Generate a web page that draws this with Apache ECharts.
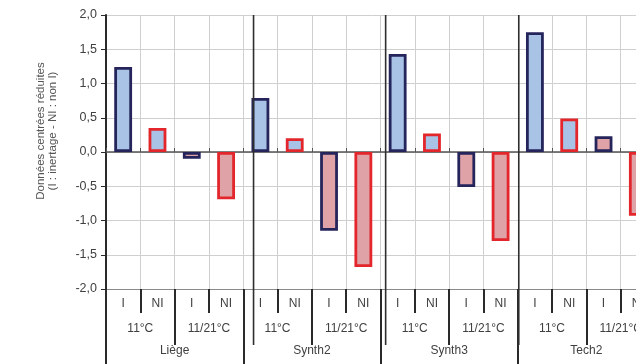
<!DOCTYPE html>
<html>
<head>
<meta charset="utf-8">
<script src="https://cdn.jsdelivr.net/npm/echarts@6/dist/echarts.min.js"></script>
<style>
  html, body { margin: 0; padding: 0; background: #fff; }
  #chart { width: 636px; height: 364px; }
</style>
</head>
<body>
<div id="chart"></div>
<script>
// Sites, temperature regimes and treatments (three label levels)
const sites = ['Liège', 'Synth2', 'Synth3', 'Tech2'];
const regimes = ['11°C', '11/21°C'];
const treatments = ['I', 'NI'];

// Centred-reduced values per site: [I 11°C, NI 11°C, I 11/21°C, NI 11/21°C]
const liege  = [1.24, 0.35, -0.10, -0.69];
const synth2 = [0.79, 0.20, -1.15, -1.68];
const synth3 = [1.43, 0.27, -0.51, -1.30];
const tech2  = [1.75, 0.49, 0.23, -0.93];

const yTicks = [-2.0, -1.5, -1.0, -0.5, 0.0, 0.5, 1.0, 1.5, 2.0];

const siteValues = [liege, synth2, synth3, tech2];

// Flattened category levels
const level1 = [], level2 = [], values = [];
sites.forEach((s, si) => {
  regimes.forEach((r, ri) => {
    level2.push(r);
    treatments.forEach((t, ti) => {
      level1.push(t);
      values.push(siteValues[si][ri * 2 + ti]);
    });
  });
});

const BLUE = '#a8c3e5', PINK = '#dfa2a7', NAVY = '#25255c', RED = '#e3262c';
const fills = [BLUE, BLUE, PINK, PINK];
const borders = [NAVY, RED, NAVY, RED];

const labelFont = { fontFamily: 'Liberation Sans, Arial, sans-serif', fontSize: 12, color: '#404040' };

const chart = echarts.init(document.getElementById('chart'), null, { renderer: 'canvas' });

chart.setOption({
  animation: false,
  grid: { left: 106, top: 15, width: 549, height: 274, containLabel: false, outerBoundsMode: 'none' },
  xAxis: [
    {
      type: 'category', data: level1, position: 'bottom',
      axisLine: { onZero: false, lineStyle: { color: '#8a8a8a', width: 1 } },
      axisTick: { show: true, length: 24, lineStyle: { color: '#2a2a2a', width: 2 } },
      axisLabel: Object.assign({ margin: 9, interval: 0 }, labelFont),
      splitLine: { show: true, lineStyle: { color: '#cfcfcf', width: 1 } }
    },
    {
      type: 'category', data: level2, position: 'bottom',
      axisLine: { show: false, onZero: false },
      axisTick: { show: true, length: 56, lineStyle: { color: '#2a2a2a', width: 2 } },
      axisLabel: Object.assign({ margin: 34, interval: 0 }, labelFont),
      splitLine: { show: false }
    },
    {
      type: 'category', data: sites, position: 'bottom',
      axisLine: { show: false, onZero: false },
      axisTick: { show: true, length: 76, lineStyle: { color: '#2a2a2a', width: 2 } },
      axisLabel: Object.assign({ margin: 56, interval: 0 }, labelFont),
      splitLine: { show: false }
    },
    {
      // zero line with small boundary ticks
      type: 'category', data: level1,
      axisLine: { onZero: true, lineStyle: { color: '#555', width: 1.5 } },
      axisTick: { show: true, length: 4, lineStyle: { color: '#555', width: 1 } },
      axisLabel: { show: false },
      splitLine: { show: false }
    }
  ],
  yAxis: {
    type: 'value', min: yTicks[0], max: yTicks[yTicks.length - 1], interval: 0.5,
    axisLine: { show: true, onZero: false, lineStyle: { color: '#2a2a2a', width: 2 } },
    axisTick: { show: true, length: 5, lineStyle: { color: '#2a2a2a' } },
    axisLabel: Object.assign({ margin: 9, formatter: v => v.toFixed(1).replace('.', ',') },
      labelFont, { fontSize: 12.5 }),
    splitLine: { show: true, lineStyle: { color: '#cfcfcf', width: 1 } }
  },
  series: [{
    type: 'bar', xAxisIndex: 0, barWidth: '52%', z: 3,
    data: values.map((v, i) => ({
      value: v,
      itemStyle: { color: fills[i % 4], borderColor: borders[i % 4], borderWidth: 2.8 }
    }))
  }]
});

// Site separator lines running from the plot top through the label rows
const sepShift = [0.3, 0.15, 0.03];
const band = chart.convertToPixel({ xAxisIndex: 0 }, 1) - chart.convertToPixel({ xAxisIndex: 0 }, 0);
const yTop = chart.convertToPixel({ yAxisIndex: 0 }, yTicks[yTicks.length - 1]);
const graphics = [];
for (let g = 1; g < sites.length; g++) {
  const idx = g * treatments.length * regimes.length;
  const x = chart.convertToPixel({ xAxisIndex: 0 }, idx) - band / 2 + sepShift[g - 1] * band;
  graphics.push({
    type: 'line', z: 10,
    shape: { x1: x, y1: yTop, x2: x, y2: 345 },
    style: { stroke: '#2e2e2e', lineWidth: 1.6 }
  });
}
graphics.push({
  type: 'text', x: 47, y: 131, rotation: Math.PI / 2,
  style: {
    text: 'Données centrées réduites\n(I : inertage - NI : non I)',
    align: 'center', verticalAlign: 'middle',
    font: '11.5px Liberation Sans, Arial, sans-serif', fill: '#555', lineHeight: 12
  }
});
chart.setOption({ graphic: graphics });
</script>
</body>
</html>
